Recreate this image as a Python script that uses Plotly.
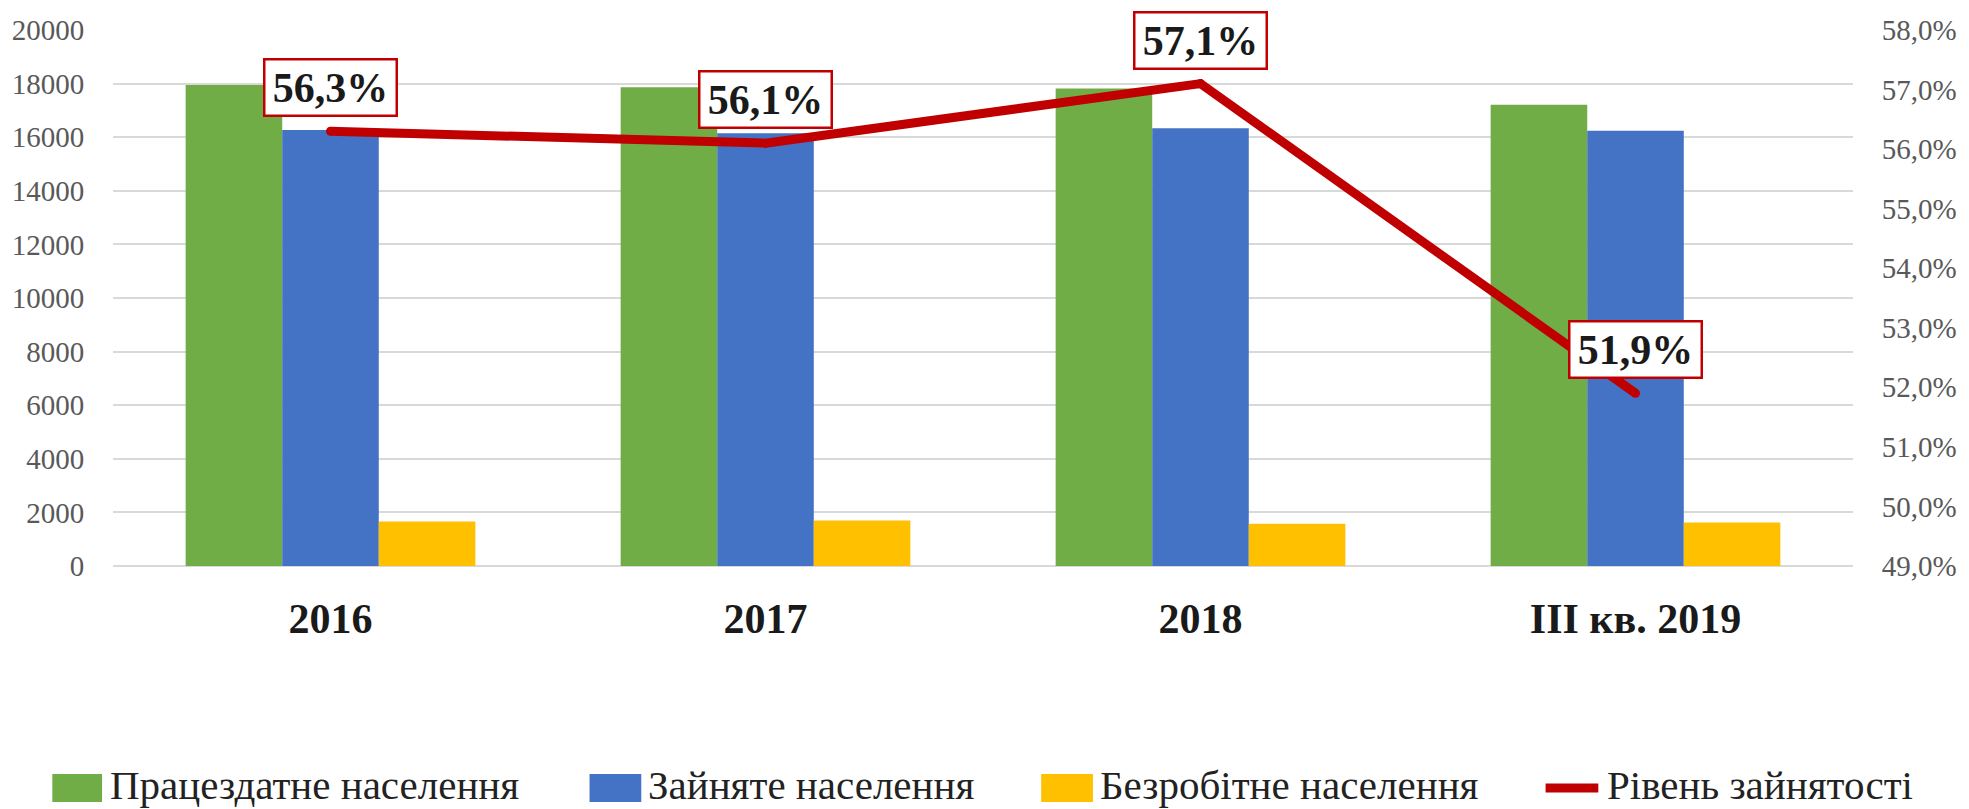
import plotly.graph_objects as go

categories = ["2016", "2017", "2018", "III кв. 2019"]
working_age = [17950, 17860, 17815, 17215]
employed = [16270, 16145, 16330, 16245]
unemployed = [1660, 1700, 1580, 1620]
employment_rate = [56.3, 56.1, 57.1, 51.9]

series_names = ["Працездатне населення", "Зайняте населення",
                "Безробітне населення", "Рівень зайнятості"]
left_ticks = list(range(0, 20001, 2000))
right_ticks = list(range(49, 59))
right_ticktext = [f"{v},0%" for v in right_ticks]

GREEN, BLUE, YELLOW, RED = "#70AD47", "#4472C4", "#FFC000", "#C00000"
FONT = "Liberation Serif"

W, H = 1969, 809
ML, MR, MT, MB = 113, 107, 30, 243
PW, PH = W - ML - MR, H - MT - MB


def px_x(px):
    return (px - ML) / PW


def px_y(py):
    return (H - MB - py) / PH


fig = go.Figure()
for name, vals, col in [(series_names[0], working_age, GREEN),
                        (series_names[1], employed, BLUE),
                        (series_names[2], unemployed, YELLOW)]:
    fig.add_trace(go.Bar(x=categories, y=vals, name=name, marker_color=col,
                         marker_line_width=0, yaxis="y", showlegend=False))

fig.add_trace(go.Scatter(x=categories, y=employment_rate, name=series_names[3],
                         mode="lines+markers", yaxis="y2",
                         line=dict(color=RED, width=9),
                         marker=dict(color=RED, size=9),
                         showlegend=False))

annotations = []
for i, v in enumerate(employment_rate):
    annotations.append(dict(
        x=i, y=v, xref="x", yref="y2", showarrow=False,
        text="<b>" + f"{v:.1f}".replace(".", ",") + "%</b>",
        font=dict(family=FONT, size=42, color="#1a1a1a"),
        yanchor="bottom", yshift=14,
        bgcolor="white", bordercolor=RED, borderwidth=2.5, borderpad=3,
        width=124, height=48,
    ))

# manual legend (positions in pixels converted to paper coordinates)
legend_items = [
    (52, 102, 108, GREEN, "rect"),
    (592, 644, 649, BLUE, "rect"),
    (1046, 1098, 1103, YELLOW, "rect"),
    (1553, 1606, 1613, RED, "line"),
]
shapes = []
ly = 788
for (x0, x1, tx, col, kind), name in zip(legend_items, series_names):
    if kind == "rect":
        shapes.append(dict(type="rect", xref="paper", yref="paper",
                           x0=px_x(x0), x1=px_x(x1), y0=px_y(ly + 14), y1=px_y(ly - 14),
                           fillcolor=col, line=dict(width=0)))
    else:
        shapes.append(dict(type="line", xref="paper", yref="paper",
                           x0=px_x(x0), x1=px_x(x1), y0=px_y(ly), y1=px_y(ly),
                           line=dict(color=col, width=9)))
    annotations.append(dict(x=px_x(tx), y=px_y(ly - 3), xref="paper", yref="paper",
                            xanchor="left", yanchor="middle", showarrow=False,
                            text=name, font=dict(family=FONT, size=41, color="#222222")))

fig.update_layout(
    width=W, height=H,
    margin=dict(l=ML, r=MR, t=MT, b=MB, pad=0),
    plot_bgcolor="white", paper_bgcolor="white",
    barmode="group", bargap=0.334, bargroupgap=0,
    font=dict(family=FONT),
    showlegend=False,
    xaxis=dict(type="category", categoryorder="array", categoryarray=categories,
               range=[-0.5, len(categories) - 0.5],
               tickfont=dict(family=FONT, size=42, color="#1a1a1a", weight="bold"),
               showgrid=False, showline=False,
               ticks="outside", ticklen=16, tickcolor="rgba(0,0,0,0)"),
    yaxis=dict(range=[0, 20000], tickvals=left_ticks, tickformat="d",
               tickfont=dict(family=FONT, size=29, color="#595959"),
               showgrid=True, gridcolor="#D9D9D9", gridwidth=1.5,
               zeroline=True, zerolinecolor="#D9D9D9", zerolinewidth=1.5,
               showline=False, ticks="outside", ticklen=22, tickcolor="rgba(0,0,0,0)"),
    yaxis2=dict(range=[49, 58], tickvals=right_ticks, ticktext=right_ticktext,
                overlaying="y", side="right",
                tickfont=dict(family=FONT, size=29, color="#595959"),
                showgrid=False, zeroline=False, showline=False,
                ticks="outside", ticklen=22, tickcolor="rgba(0,0,0,0)"),
    shapes=shapes,
    annotations=annotations,
)

fig.write_html("out.html", config={"displayModeBar": False},
               post_script="document.body.style.margin='0';")
